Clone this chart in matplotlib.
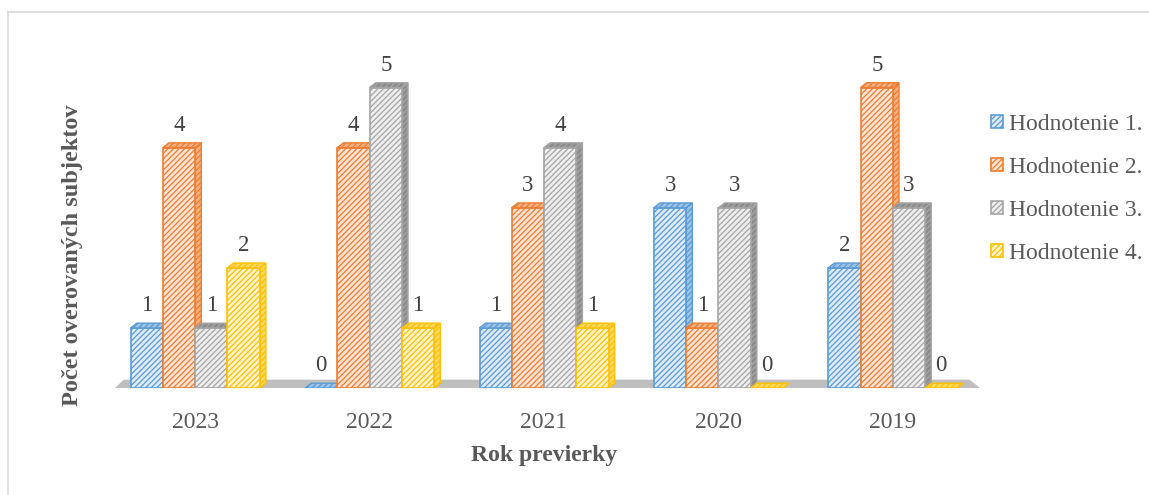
import matplotlib.pyplot as plt
from matplotlib.patches import Polygon
import matplotlib.lines as mlines

plt.rcParams['font.family'] = ['Liberation Serif', 'DejaVu Serif']
plt.rcParams['hatch.linewidth'] = 0.9

# ------ data ------
years = ['2023', '2022', '2021', '2020', '2019']
series = ['Hodnotenie 1.', 'Hodnotenie 2.', 'Hodnotenie 3.', 'Hodnotenie 4.']
h1 = [1, 0, 1, 3, 2]
h2 = [4, 4, 3, 1, 5]
h3 = [1, 5, 4, 3, 3]
h4 = [2, 1, 1, 0, 0]
values = [h1, h2, h3, h4]

edge = ['#5B9BD5', '#ED7D31', '#A5A5A5', '#FFC000']
fill = ['#DEEBF7', '#FBE3D3', '#EEEEEE', '#FFF3CC']
side = ['#9DC3E6', '#F4B183', '#8C8C8C', '#FFD966']

fig = plt.figure(figsize=(11.49, 4.95), dpi=100)
ax = fig.add_axes([0.094, 0.216, 0.759, 0.68])

width = 0.185
dx, dy = 0.035, 0.08   # depth of the fake 3d faces

# floor
floor = Polygon([(-0.46, 0), (4.5, 0), (4.44, 0.14), (-0.41, 0.14)],
                closed=True, facecolor='#BFBFBF', edgecolor='none', zorder=1)
ax.add_patch(floor)

x = range(len(years))
for s in range(len(series)):
    xs = [i + (s - 1.5) * width for i in x]
    ax.bar(xs, values[s], width, color=fill[s], edgecolor=edge[s],
           hatch='//////', linewidth=1.2, label=series[s], zorder=3 + s)
    for xc, v in zip(xs, values[s]):
        x0, x1 = xc - width / 2, xc + width / 2
        top = Polygon([(x0, v), (x0 + dx, v + dy), (x1 + dx, v + dy), (x1, v)],
                      closed=True, facecolor=side[s], edgecolor=edge[s],
                      hatch='//////', linewidth=1.0, zorder=3 + s)
        ax.add_patch(top)
        if v > 0:
            rside = Polygon([(x1, 0), (x1 + dx, dy), (x1 + dx, v + dy), (x1, v)],
                            closed=True, facecolor=side[s], edgecolor=edge[s],
                            hatch='//////', linewidth=1.0, zorder=2.5 + s)
            ax.add_patch(rside)
        ax.text(xc, v + 0.2, str(v), ha='center', va='bottom',
                fontsize=16.5, color='#404040', zorder=10)

ax.set_xlim(-0.5, 4.5)
ax.set_ylim(0, 5.6)
ax.set_xticks(list(x))
ax.set_xticklabels(years, fontsize=17, color='#595959')
ax.set_yticks([])
ax.tick_params(axis='x', length=0, pad=17)
for sp in ax.spines.values():
    sp.set_visible(False)

ax.set_xlabel('Rok previerky', fontsize=17, fontweight='bold', color='#595959', labelpad=9)
ax.set_ylabel('Počet overovaných subjektov', fontsize=17.5, fontweight='bold',
              color='#595959')
ax.yaxis.set_label_coords(-0.029, 0.395)

leg = ax.legend(loc='upper left', bbox_to_anchor=(1.013, 0.815), frameon=False,
                fontsize=17, labelspacing=0.93, handlelength=0.5, handleheight=0.5,
                handletextpad=0.25, borderaxespad=0, borderpad=0, labelcolor='#595959')

# chart border (light grey)
fig.add_artist(mlines.Line2D([8 / 1149, 8 / 1149], [0, 1 - 12 / 495],
                             color='#D9D9D9', linewidth=1.2))
fig.add_artist(mlines.Line2D([8 / 1149, 1], [1 - 12 / 495, 1 - 12 / 495],
                             color='#D9D9D9', linewidth=1.2))

fig.savefig('out.png', dpi=100)
